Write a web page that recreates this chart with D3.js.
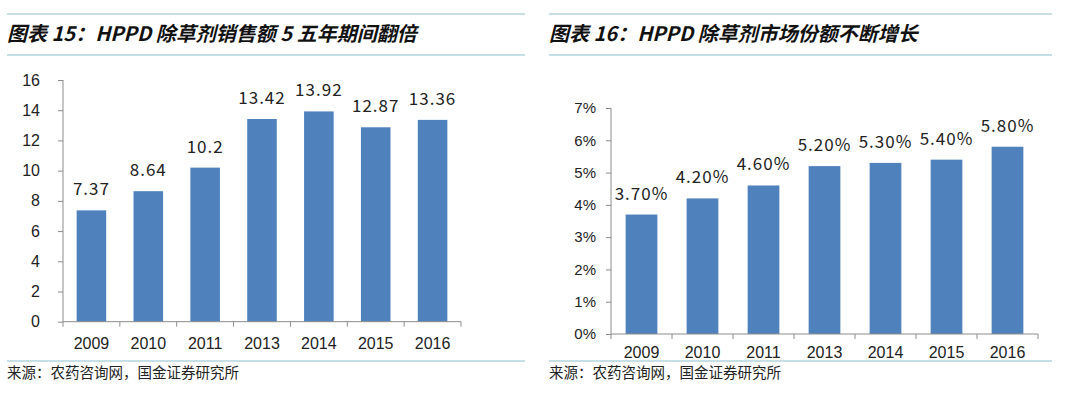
<!DOCTYPE html>
<html>
<head>
<meta charset="utf-8">
<script src="https://cdn.jsdelivr.net/npm/d3@7"></script>
<style>
  body { margin: 0; background: #fff; }
  svg { display: block; }
</style>
</head>
<body>
<svg width="1080" height="395"></svg>
<script>
"use strict"

// data
var years = ["2009", "2010", "2011", "2013", "2014", "2015", "2016"];
var sales = [7.37, 8.64, 10.2, 13.42, 13.92, 12.87, 13.36];
var sales_labels = ["7.37", "8.64", "10.2", "13.42", "13.92", "12.87", "13.36"];
var share = [0.037, 0.042, 0.046, 0.052, 0.053, 0.054, 0.058];
var share_labels = ["3.70%", "4.20%", "4.60%", "5.20%", "5.30%", "5.40%", "5.80%"];
var sales_ticks = [0, 2, 4, 6, 8, 10, 12, 14, 16];
var share_ticks = [0, 0.01, 0.02, 0.03, 0.04, 0.05, 0.06, 0.07];

var titles = ["图表 15：HPPD 除草剂销售额 5 五年期间翻倍", "图表 16：HPPD 除草剂市场份额不断增长"];
var source = "来源：农药咨询网，国金证券研究所";

var BAR = "#4f81bd",
    RULE = "#b3d3dc",
    AXIS = "#8c8c8c",
    LATIN = "'Liberation Sans', Arial, sans-serif",
    CJK = "'Noto Sans CJK SC', sans-serif";

var svg = d3.select("svg");

var draw_frame = function(x0, x1, title, id) {
    var g = svg.append('g').attr("id", id);
    [14, 55, 361].forEach(function(yy) {
        g.append('line').attr("x1", x0).attr("x2", x1).attr("y1", yy).attr("y2", yy)
            .attr("stroke", RULE).attr("stroke-width", 1.5);
    });
    g.append('text').attr("x", x0).attr("y", 41)
        .attr("font-family", CJK).attr("font-weight", "bold").attr("font-style", "italic")
        .attr("font-size", 20).attr("fill", "#111").text(title);
    g.append('text').attr("x", x0).attr("y", 378)
        .attr("font-family", CJK).attr("font-size", 14.5).attr("fill", "#222").text(source);
}

var draw_bars = function(opt) {
    var x = d3.scaleBand().domain(years).range([opt.left, opt.right]).paddingInner(0.48).paddingOuter(0.24),
        y = d3.scaleLinear().domain(opt.domain).range([opt.bottom, opt.top]);

    /* the right chart's year labels are cut by the bottom rule in the original */
    var clip_id = opt.id + "_clip";
    svg.append('clipPath').attr("id", clip_id)
        .append('rect').attr("x", opt.left - 60).attr("y", opt.top - 30)
        .attr("width", opt.right - opt.left + 120).attr("height", 360 - (opt.top - 30));

    var g = svg.append('g').attr("id", opt.id).attr("clip-path", "url(#" + clip_id + ")");

    g.selectAll('rect.bar').data(opt.values).enter().append('rect')
        .attr("class", "bar")
        .attr("x", function(d, i) { return x(years[i]); })
        .attr("width", x.bandwidth())
        .attr("y", function(d) { return y(d); })
        .attr("height", function(d) { return y(0) - y(d); })
        .attr("fill", BAR);

    g.selectAll('text.lbl').data(opt.values).enter().append('text')
        .attr("class", "lbl")
        .attr("x", function(d, i) { return x(years[i]) + x.bandwidth() / 2; })
        .attr("y", function(d) { return y(d) - 15; })
        .attr("text-anchor", "middle")
        .attr("font-family", CJK).attr("font-size", 17).attr("letter-spacing", 1)
        .attr("fill", "#222")
        .text(function(d, i) { return opt.labels[i]; });

    // y axis
    var ya = g.append('g').attr("transform", "translate(" + opt.left + ",0)")
        .call(d3.axisLeft(y).tickValues(opt.ticks).tickFormat(opt.fmt).tickSize(5).tickPadding(opt.pad));
    ya.select('.domain').attr("stroke", AXIS).attr("d", "M0," + y(opt.domain[1]) + "V" + y(0));
    ya.selectAll('.tick line').attr("stroke", AXIS);
    ya.selectAll('.tick text').attr("font-family", LATIN).attr("font-size", opt.ysize).attr("fill", "#222");

    // x axis, ticks between categories
    var step = x.step(),
        bounds = d3.range(years.length + 1).map(function(i) { return opt.left + i * step; });
    g.append('line').attr("x1", opt.left).attr("x2", opt.right).attr("y1", y(0)).attr("y2", y(0))
        .attr("stroke", AXIS);
    g.selectAll('line.xt').data(bounds).enter().append('line')
        .attr("class", "xt")
        .attr("x1", function(d) { return d; }).attr("x2", function(d) { return d; })
        .attr("y1", y(0)).attr("y2", y(0) + 5)
        .attr("stroke", AXIS);
    g.selectAll('text.xl').data(years).enter().append('text')
        .attr("class", "xl")
        .attr("x", function(d) { return x(d) + x.bandwidth() / 2; })
        .attr("y", Math.min(y(0) + 27, 358))
        .attr("text-anchor", "middle")
        .attr("font-family", LATIN).attr("font-size", 16).attr("fill", "#222")
        .text(function(d) { return d; });
}

draw_frame(7, 525, titles[0], "frame_l");
draw_frame(549, 1052, titles[1], "frame_r");

draw_bars({
    id: "sales", left: 63, right: 461, top: 80, bottom: 321.7,
    domain: [0, 16], values: sales, labels: sales_labels, ticks: sales_ticks,
    fmt: d3.format("d"), pad: 18, ysize: 16
});
draw_bars({
    id: "share", left: 611, right: 1038, top: 108, bottom: 334,
    domain: [0, 0.07], values: share, labels: share_labels, ticks: share_ticks,
    fmt: d3.format(".0%"), pad: 10, ysize: 15
});
</script>
</body>
</html>
